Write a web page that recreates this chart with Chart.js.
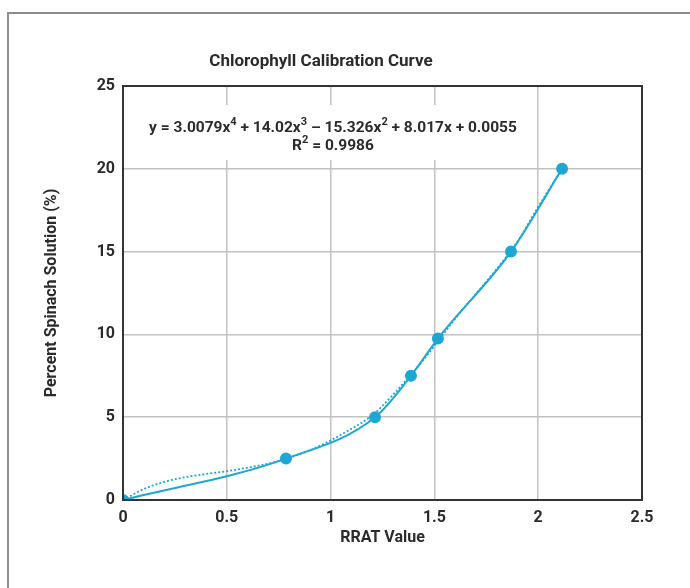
<!DOCTYPE html>
<html lang="en">
<head>
    <meta charset="UTF-8">
    <title>Chlorophyll Calibration Curve</title>
    <script src="https://cdn.jsdelivr.net/npm/chart.js"></script>
    <style>
        html, body { margin: 0; padding: 0; background: #fff; overflow: hidden; }
        .frame {
            position: absolute; left: 7px; top: 12px; width: 720px; height: 620px;
            border: 2px solid #8c8c8c; box-sizing: border-box;
        }
        .wrap { position: absolute; left: 0; top: 0; width: 690px; height: 588px; }
    </style>
</head>
<body>
    <div class="frame"></div>
    <div class="wrap"><canvas id="calChart" width="690" height="588"></canvas></div>

    <script>
        // measured samples (RRAT value vs percent spinach solution)
        const rratValues = [0, 0.785, 1.214, 1.387, 1.517, 1.869, 2.115];
        const spinachPct = [0, 2.5, 5, 7.5, 9.75, 15, 20];

        // dotted trendline
        const trendX = [0, 0.1, 0.2, 0.3, 0.4, 0.5, 0.6, 0.7, 0.8, 0.9, 1.0, 1.1, 1.2, 1.3, 1.4, 1.5, 1.6, 1.7, 1.8, 1.9, 2.0, 2.115];
        const trendY = [0, 0.66, 1.1, 1.38, 1.57, 1.74, 1.95, 2.2, 2.55, 3.0, 3.6, 4.3, 5.1, 6.35, 7.75, 9.3, 10.95, 12.45, 13.95, 15.6, 17.7, 20];

        const xTickLabels = ['0', '0.5', '1', '1.5', '2', '2.5'];

        const equationParts = [['y = 3.0079x'], ['4', true], [' + 14.02x'], ['3', true], [' – 15.326x'], ['2', true], [' + 8.017x + 0.0055']];
        const r2Parts = [['R'], ['2', true], [' = 0.9986']];

        const blue = '#1ea7d3';
        const ink = '#2b2b2b';
        const fam = 'Roboto, "Noto Sans", sans-serif';

        function drawRich(ctx, parts, cx, y, size) {
            const big = 'bold ' + size + 'px ' + fam;
            const small = 'bold ' + Math.round(size * 0.68) + 'px ' + fam;
            let total = 0;
            parts.forEach(p => { ctx.font = p[1] ? small : big; total += ctx.measureText(p[0]).width; });
            let x = cx - total / 2;
            ctx.textAlign = 'left';
            ctx.textBaseline = 'alphabetic';
            parts.forEach(p => {
                ctx.font = p[1] ? small : big;
                ctx.fillText(p[0], x, p[1] ? y - size * 0.42 : y);
                x += ctx.measureText(p[0]).width;
            });
            return total;
        }

        const equationBox = {
            id: 'equationBox',
            beforeDatasetsDraw(chart) {
                const { ctx, chartArea } = chart;
                ctx.save();
                ctx.fillStyle = '#fff';
                ctx.fillRect(chartArea.left + 20, chartArea.top + 19, 382, 55);
                ctx.fillStyle = ink;
                drawRich(ctx, equationParts, chartArea.left + 210, chartArea.top + 46, 15.5);
                drawRich(ctx, r2Parts, chartArea.left + 210, chartArea.top + 64, 15.5);
                ctx.restore();
            },
            afterDraw(chart) {
                const { ctx, chartArea } = chart;
                ctx.save();
                ctx.strokeStyle = '#333';
                ctx.lineWidth = 2;
                ctx.strokeRect(chartArea.left, chartArea.top, chartArea.right - chartArea.left, chartArea.bottom - chartArea.top);
                ctx.restore();
            }
        };

        const tickFont = { family: fam, size: 16, weight: 'bold' };

        new Chart(document.getElementById('calChart'), {
            type: 'scatter',
            data: {
                datasets: [{
                    label: 'Trendline',
                    data: trendX.map((x, i) => ({ x: x, y: trendY[i] })),
                    showLine: true,
                    borderColor: blue,
                    borderWidth: 1.8,
                    borderDash: [2, 2],
                    pointRadius: 0,
                    cubicInterpolationMode: 'monotone',
                    order: 2
                }, {
                    label: 'Samples',
                    data: rratValues.map((x, i) => ({ x: x, y: spinachPct[i] })),
                    showLine: true,
                    borderColor: blue,
                    backgroundColor: blue,
                    borderWidth: 2,
                    pointRadius: 5,
                    pointHoverRadius: 5,
                    cubicInterpolationMode: 'monotone',
                    order: 1
                }]
            },
            options: {
                responsive: false,
                animation: false,
                layout: { padding: { left: 0, top: 0, right: 48, bottom: 40 } },
                plugins: {
                    legend: { display: false },
                    tooltip: { enabled: false },
                    title: {
                        display: true,
                        text: 'Chlorophyll Calibration Curve',
                        color: ink,
                        font: { family: fam, size: 17, weight: 'bold' },
                        padding: { top: 52, bottom: 13.6 }
                    }
                },
                scales: {
                    x: {
                        type: 'linear',
                        min: 0, max: 2.5,
                        ticks: {
                            stepSize: 0.5, color: ink, padding: 8, font: tickFont,
                            callback: (v, i) => xTickLabels[i]
                        },
                        grid: { color: '#c2c2c2', lineWidth: 1.5, drawTicks: false, tickLength: 0 },
                        border: { color: '#333', width: 2 },
                        title: {
                            display: true, text: 'RRAT Value', color: ink, font: tickFont,
                            padding: { top: 2, bottom: 0 }
                        },
                        afterFit(scale) { scale.height = 48; }
                    },
                    y: {
                        min: 0, max: 25,
                        ticks: { stepSize: 5, color: ink, padding: 8, font: tickFont },
                        grid: { color: '#c2c2c2', lineWidth: 1.5, drawTicks: false, tickLength: 0 },
                        border: { color: '#333', width: 2 },
                        title: {
                            display: true, text: 'Percent Spinach Solution (%)', color: ink, font: tickFont,
                            padding: { top: 42, bottom: 0 }
                        },
                        afterFit(scale) { scale.width = 123; }
                    }
                }
            },
            plugins: [equationBox]
        });
    </script>
</body>
</html>
